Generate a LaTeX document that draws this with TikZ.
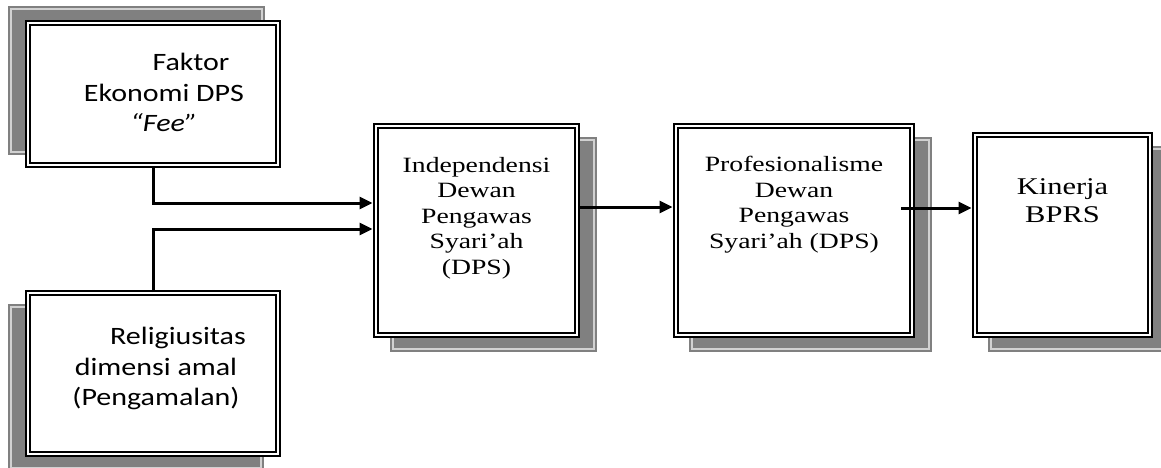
\documentclass[tikz,border=0pt]{standalone}
\usepackage{fontspec}
\setmainfont{Liberation Serif}
\newfontfamily\calfont[FakeStretch=1.2]{Carlito}
\newfontfamily\timesx[FakeStretch=1.27]{Liberation Serif}
\usetikzlibrary{arrows.meta}
\begin{document}
\begin{tikzpicture}[x=1pt,y=-1pt,
  box/.style={rectangle, draw=black, double=white, double distance=2pt, line width=2pt, fill=white, inner sep=0pt},
  shadowbox/.style={fill=black!50},
  shadowline/.style={draw=black!18, line width=1.3pt},
  ctext/.style={font=\calfont\fontsize{25}{30.5}\selectfont, align=center, inner sep=0pt, anchor=north},
  stext/.style={font=\timesx\fontsize{21.8}{25.5}\selectfont, align=center, inner sep=0pt, anchor=north},
  arr/.style={line width=3pt, -{Triangle[length=13pt,width=12pt]}, shorten >=2.5pt}
]
\useasboundingbox (0,0) rectangle (1161,468);
\fill[white] (0,0) rectangle (1161,468);
% shadows
\path[shadowbox] (8,6) rectangle (265,155);
\draw[shadowline] (11,9) rectangle (262,152);
\path[shadowbox] (8,304) rectangle (264,471);
\draw[shadowline] (11,307) rectangle (261,468);
\path[shadowbox] (390,137) rectangle (597,352);
\draw[shadowline] (393,140) rectangle (594,349);
\path[shadowbox] (689,137) rectangle (932,352);
\draw[shadowline] (692,140) rectangle (929,349);
\path[shadowbox] (988,146) rectangle (1169,352);
\draw[shadowline] (991,149) rectangle (1166,349);
% boxes
\node[box, minimum width=250pt, minimum height=142pt] (f) at (153,94) {};
\node[box, minimum width=250pt, minimum height=161pt] (r) at (153,373.5) {};
\node[box, minimum width=201pt, minimum height=209pt] (i) at (476.5,230.5) {};
\node[box, minimum width=236pt, minimum height=209pt] (p) at (794,230.5) {};
\node[box, minimum width=175pt, minimum height=200pt] (k) at (1062.5,235) {};
% texts
\node[ctext] (t1) at (164,53) {\hspace*{54pt}Faktor\\Ekonomi DPS\\\textit{“Fee”}};
\node[ctext] (t2) at (156,327) {\hspace*{44pt}Religiusitas\\dimensi amal\\(Pengamalan)};
\node[stext] (t3) at (476.5,157) {Independensi\\Dewan\\Pengawas\\Syari’ah\\(DPS)};
\node[stext] (t4) at (794,156) {Profesionalisme\\Dewan\\Pengawas\\Syari’ah (DPS)};
\node[stext, font=\timesx\fontsize{24}{28}\selectfont] (t5) at (1062.5,178) {Kinerja\\BPRS};
% connectors
\draw[arr] (f.south) |- ([yshift=27.5pt]i.west);
\draw[arr] (r.north) |- ([yshift=1.5pt]i.west);
\coordinate (a3) at ([yshift=23.5pt]i.east);
\draw[arr] (a3) -- (a3 -| p.west);
\coordinate (a4) at ([xshift=-12pt,yshift=22.5pt]p.east);
\draw[arr] (a4) -- (a4 -| k.west);
\end{tikzpicture}
\end{document}
